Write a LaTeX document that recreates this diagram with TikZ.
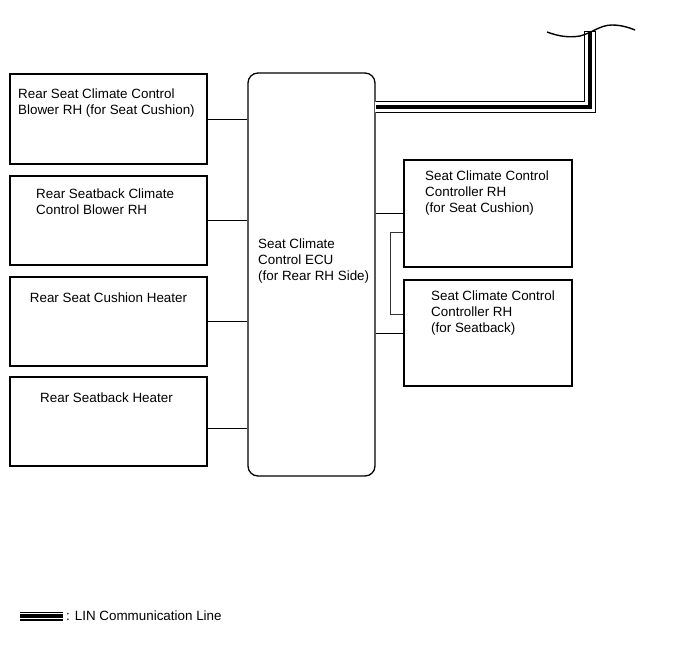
\documentclass[tikz,border=0pt]{standalone}
\usepackage{fontspec}
\setmainfont{Liberation Sans}
\usetikzlibrary{calc}
\begin{document}
\begin{tikzpicture}[x=1pt,y=-1pt,
  box/.style={draw,line width=1.2pt,inner sep=0pt,minimum width=197pt,minimum height=89pt},
  rbox/.style={draw,line width=1.2pt,inner sep=0pt,minimum width=168pt},
  ecubox/.style={draw,line width=1.3pt,rounded corners=10pt,inner sep=0pt,minimum width=127pt,minimum height=403pt},
  lbl/.style={inner sep=0pt,align=left,font=\fontsize{13.4}{16}\selectfont},
  wire/.style={line width=0.9pt},
  linouter/.style={line width=12pt,line join=miter},
  lingap/.style={line width=9.6pt,white,line join=miter},
  lincore/.style={line width=4.4pt,line join=miter}]
\useasboundingbox (0,0) rectangle (689,659);
% boxes
\node[box,minimum height=90pt] (b1) at (108.5,119) {};
\node[box] (b2) at (108.5,220.5) {};
\node[box] (b3) at (108.5,321.5) {};
\node[box] (b4) at (108.5,421.5) {};
\node[ecubox] (ecu) at (311.5,274.5) {};
\node[rbox,minimum height=107pt] (ra) at (488,213.5) {};
\node[rbox,minimum height=106pt] (rb) at (488,333) {};
% texts (base anchor = baseline of the last line)
\node[lbl,anchor=base west] (t1) at (18,114) {Rear Seat Climate Control\\Blower RH (for Seat Cushion)};
\node[lbl,anchor=base west] (t2) at (36,214) {Rear Seatback Climate\\Control Blower RH};
\node[lbl,anchor=base] (t3) at (108.5,302) {Rear Seat Cushion Heater};
\node[lbl,anchor=base] (t4) at (106.5,402) {Rear Seatback Heater};
\node[lbl,anchor=base west] (te) at (258,280) {Seat Climate\\Control ECU\\(for Rear RH Side)};
\node[lbl,anchor=base west] (ta) at (425,212.5) {Seat Climate Control\\Controller RH\\(for Seat Cushion)};
\node[lbl,anchor=base west] (tb) at (431,332.5) {Seat Climate Control\\Controller RH\\(for Seatback)};
% connectors
\draw[wire] (b1.east) -- (b1.east -| ecu.west);
\draw[wire] (b2.east) -- (b2.east -| ecu.west);
\draw[wire] (b3.east) -- (b3.east -| ecu.west);
\coordinate (c4) at ($(b4.east)+(0,6.5)$);
\draw[wire] (c4) -- (c4 -| ecu.west);
\draw[wire] (ra.west) -- (ra.west -| ecu.east);
\draw[wire] (rb.west) -- (rb.west -| ecu.east);
\coordinate (ba) at ($(ra.west)+(0,18.5)$);
\coordinate (bb) at ($(rb.west)+(0,-19)$);
\draw[wire,black!80] (ba) -- ++(-13,0) |- (bb);
% LIN line
\coordinate (lincorner) at (590,107);
\coordinate (linend) at (590,31);
\coordinate (linstart) at (ecu.east |- lincorner);
\draw[linouter] (linstart) -- (lincorner) -- (linend);
\draw[lingap] ([xshift=-1pt]linstart) -- (lincorner) -- ([yshift=-1pt]linend);
\draw[lincore] (linstart) -- (lincorner) -- (linend);
\draw[line width=1.4pt] (547,32) .. controls (558,36) and (568,38) .. (580,36) .. controls (592,33) and (600,25) .. (612,25) .. controls (622,25) and (630,28) .. (635,30);
% legend
\coordinate (lg1) at (20,616);
\coordinate (lg2) at (63,616);
\draw[linouter,line width=9pt] (lg1) -- (lg2);
\draw[lingap,line width=6.6pt] ([xshift=-1pt]lg1) -- ([xshift=1pt]lg2);
\draw[lincore,line width=3.4pt] (lg1) -- (lg2);
\node[lbl,anchor=base west] (lt) at (66,620) {: LIN Communication Line};
\end{tikzpicture}
\end{document}
